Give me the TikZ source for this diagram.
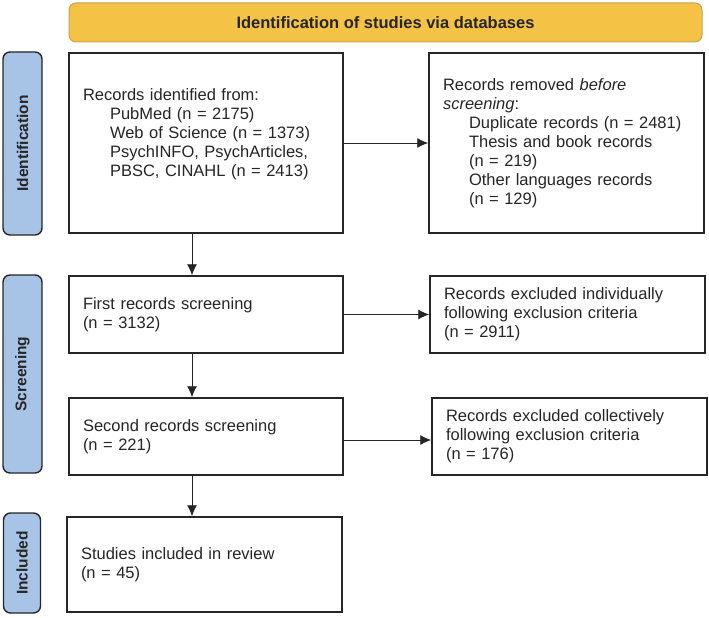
\documentclass[tikz,border=0pt]{standalone}
\usepackage{fontspec}
\setmainfont{Liberation Sans}
\usetikzlibrary{arrows.meta,positioning,calc}
\definecolor{prismaorange}{HTML}{F4C245}
\definecolor{prismaorangedark}{HTML}{C9A24B}
\definecolor{prismablue}{HTML}{A7C4E6}
\tikzset{
  headbox/.style={rectangle, rounded corners=7pt, draw=prismaorangedark, line width=1pt,
    fill=prismaorange, minimum width=633pt, minimum height=39pt, text=black!85,
    font=\bfseries\fontsize{16.5}{19}\selectfont},
  phasebox/.style={rectangle, rounded corners=7pt, draw=black!85, line width=1.4pt,
    fill=prismablue, rotate=90, minimum height=39pt, text=black!85,
    font=\bfseries\fontsize{15.5}{18}\selectfont},
  record/.style={rectangle, draw=black!85, line width=1.5pt, fill=white, align=left,
    inner xsep=14pt, text width=#1, text=black!85, font=\fontsize{16.5}{19}\selectfont}
}

\begin{document}
\begin{tikzpicture}[x=1pt, y=-1pt]

\tikzset{
toarr/.style={-{Latex[length=11pt,width=10pt]}, line width=0.9pt, draw=black!85}
}

\useasboundingbox (0,0) rectangle (709,618);

\node[headbox](title) at (385.5,22.5) {Identification of studies via databases};

%IDENTIFICATION
\node[phasebox, minimum width=183pt](phase1) at (22.5,143.5) {Identification};

\node[record=246pt, minimum height=180pt](records) at (206,143) {
Records identified from:\\
\hspace*{27pt}PubMed (n = 2175)\\
\hspace*{27pt}Web of Science (n = 1373)\\
\hspace*{27pt}PsychINFO, PsychArticles,\\
\hspace*{27pt}PBSC, CINAHL (n = 2413)\\[2pt]
\mbox{}};

\node[record=247pt, minimum height=180pt](removed) at (566.5,143) {
Records removed \textit{before}\\
\textit{screening}:\\
\hspace*{26pt}Duplicate records (n = 2481)\\
\hspace*{26pt}Thesis and book records\\
\hspace*{26pt}(n = 219)\\
\hspace*{26pt}Other languages records\\
\hspace*{26pt}(n = 129)};

\draw[toarr] (records.east) -- (removed.west);

%SCREENING
\node[phasebox, minimum width=198pt](phase2) at (22.5,374) {Screening};

\node[record=246pt, minimum height=77pt](screen1) at (206,314.5) {
First records screening\\
(n = 3132)};

\node[record=247pt, minimum height=77pt](excl1) at (567.5,314.5) {
Records excluded individually\\
following exclusion criteria\\
(n = 2911)};

\node[record=246pt, minimum height=77pt](screen2) at (206,436.5) {
Second records screening\\
(n = 221)};

\node[record=247pt, minimum height=77pt](excl2) at (569.5,436.5) {
Records excluded collectively\\
following exclusion criteria\\
(n = 176)};

\draw[toarr] ([xshift=-14pt]records.south) -- ([xshift=-14pt]screen1.north);
\draw[toarr] (screen1.east) -- (excl1.west);
\draw[toarr] ([xshift=-14pt]screen1.south) -- ([xshift=-14pt]screen2.north);
\draw[toarr] ([yshift=-3.5pt]screen2.east) -- ([yshift=-3.5pt]excl2.west);

%INCLUDED
\node[phasebox, minimum width=100pt, minimum height=37pt](phase3) at (22,563) {Included};

\node[record=247pt, minimum height=95pt](studies) at (204.5,564.5) {
Studies included in review\\
(n = 45)};

\draw[toarr] ([xshift=-14pt]screen2.south) -- ([xshift=-14pt]screen2.south |- studies.north);

\end{tikzpicture}
\end{document}
